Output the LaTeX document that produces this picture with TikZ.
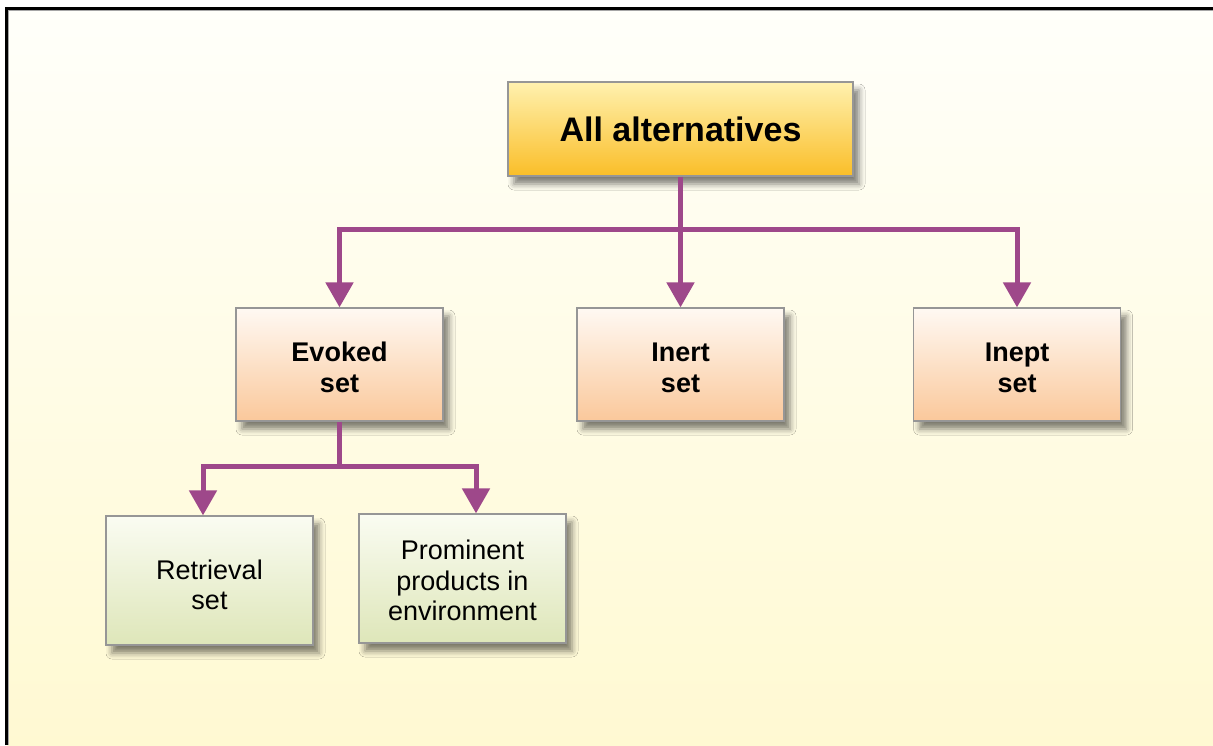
\documentclass[tikz,border=0pt]{standalone}
\usepackage{fontspec}
\setmainfont{Liberation Sans}
\usetikzlibrary{arrows.meta,shadows.blur}
\definecolor{arrowc}{RGB}{158,72,138}
\definecolor{boxline}{RGB}{150,150,150}
\definecolor{bgtop}{RGB}{255,255,250}
\definecolor{bgbot}{RGB}{255,249,210}
\definecolor{goldtop}{RGB}{255,241,175}
\definecolor{goldbot}{RGB}{250,190,40}
\definecolor{peachtop}{RGB}{255,249,243}
\definecolor{peachbot}{RGB}{250,200,155}
\definecolor{greentop}{RGB}{250,252,242}
\definecolor{greenbot}{RGB}{222,230,185}
\begin{document}
\begin{tikzpicture}[x=1pt,y=-1pt,
  box/.style={draw=boxline, line width=1.2pt, align=center, inner sep=0pt,
    blur shadow={shadow xshift=6pt, shadow yshift=-8pt, shadow blur radius=6pt, shadow opacity=50}},
  topbox/.style={box, top color=goldtop, bottom color=goldbot, minimum width=345pt, minimum height=94pt,
    font=\fontsize{34}{38}\selectfont\bfseries},
  midbox/.style={box, top color=peachtop, bottom color=peachbot, minimum width=207pt, minimum height=113pt,
    text height=56.5pt, font=\fontsize{27}{31}\selectfont\bfseries},
  lowbox/.style={box, top color=greentop, bottom color=greenbot, minimum width=207pt, minimum height=129pt,
    font=\fontsize{27}{30.5}\selectfont},
  conn/.style={draw=arrowc, line width=5pt},
  arr/.style={conn, -{Triangle[width=27pt,length=25pt]}}]
\useasboundingbox (0,0) rectangle (1213,745);
\fill[white] (0,0) rectangle (1213,745);
\shade[top color=bgtop, bottom color=bgbot] (7,9) rectangle (1213,745);
\draw[black, line width=3pt] (6.5,745) -- (6.5,8.5) -- (1213,8.5);
\draw[gray!70, line width=1pt] (8.5,745) -- (8.5,10.5) -- (1213,10.5);

\node[topbox] (all) at (680.5,129) {All alternatives};
\node[midbox] (evoked) at (339.5,364.5) {Evoked\\set};
\node[midbox] (inert) at (680.5,364.5) {Inert\\set};
\node[midbox] (inept) at (1017,364.5) {Inept\\set};
\node[lowbox, text height=58.5pt] (retr) at (209.5,580.5) {Retrieval\\set};
\node[lowbox, text height=84.5pt] (prom) at (462.5,578.5) {Prominent\\products in\\environment};

\coordinate (j1) at (680.5,229);
\coordinate (j2) at (339.5,466);
\draw[conn] (all.south) -- (j1);
\draw[arr] (j1) -| (evoked.north);
\draw[arr] (j1) -- (inert.north);
\draw[arr] (j1) -| (inept.north);
\draw[conn] (evoked.south) -- (j2);
\draw[arr] (j2) -| ([xshift=-6.5pt]retr.north);
\draw[arr] (j2) -| ([xshift=13.5pt]prom.north);
\end{tikzpicture}
\end{document}
